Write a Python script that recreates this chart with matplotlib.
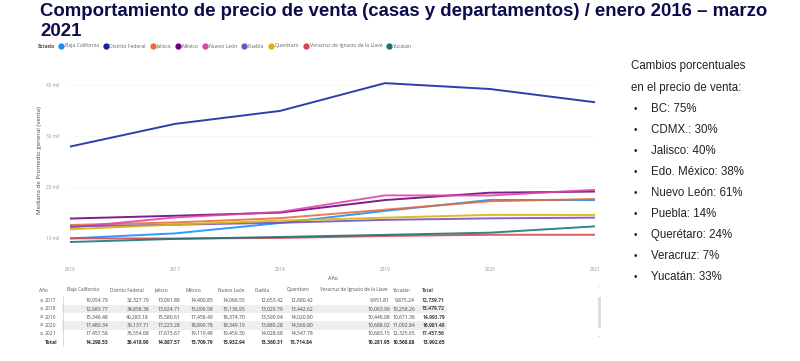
import matplotlib
matplotlib.use("Agg")
import matplotlib.pyplot as plt
from matplotlib.patches import Rectangle
from matplotlib.lines import Line2D

# ---------------- data ----------------
years = [2016, 2017, 2018, 2019, 2020, 2021]
states = ["Baja California", "Distrito Federal", "Jalisco", "México", "Nuevo León",
          "Puebla", "Querétaro", "Veracruz de Ignacio de la Llave", "Yucatán"]

baja_california = [9975, 10954.79, 12983.77, 15346.48, 17480.34, 17457.58]
distrito_federal = [27900, 32327.79, 34858.38, 40283.18, 39137.71, 36554.68]
jalisco = [12600, 13091.88, 13924.71, 15580.61, 17223.28, 17673.67]
mexico = [13850, 14400.85, 15009.58, 17458.49, 18899.78, 19119.48]
nuevo_leon = [12100, 14066.55, 15136.95, 18374.70, 18349.19, 19459.30]
puebla = [12300, 12653.42, 13029.79, 13590.94, 13889.28, 14028.68]
queretaro = [11750, 12680.42, 13442.62, 14020.80, 14569.80, 14547.78]
veracruz = [9985, 9951.81, 10063.99, 10446.08, 10688.02, 10683.15]
yucatan = [9270, 9875.24, 10258.26, 10671.36, 11092.84, 12325.65]
series = [baja_california, distrito_federal, jalisco, mexico, nuevo_leon,
          puebla, queretaro, veracruz, yucatan]

total_by_year = [12739.71, 13479.72, 14993.79, 16981.40, 17457.56]      # 2017..2021
total_by_state = [14298.53, 36418.90, 14887.57, 15709.79, 15932.94,
                  13360.31, 13714.84, 10281.95, 10568.88]
grand_total = 13992.65

yticks = [10000, 20000, 30000, 40000]
ytick_labels = ["10 mil", "20 mil", "30 mil", "40 mil"]

changes_title = ["Cambios porcentuales", "en el precio de venta:"]
changes = ["BC: 75%", "CDMX.: 30%", "Jalisco: 40%", "Edo. México: 38%",
           "Nuevo León: 61%", "Puebla: 14%", "Querétaro: 24%", "Veracruz: 7%",
           "Yucatán: 33%"]

colors = ["#118DFF", "#12239E", "#E66C37", "#6B007B", "#E044A7",
          "#744EC2", "#D9B300", "#D64550", "#197278"]

# ---------------- figure ----------------
W, H = 800, 361
fig = plt.figure(figsize=(W / 100, H / 100), dpi=100)
fig.patch.set_facecolor("white")


def P(x, y):
    return (x / W, 1 - y / H)


UI = ["Open Sans", "DejaVu Sans"]
ARIAL = ["Liberation Sans", "DejaVu Sans"]

# title
fig.text(*P(40, 12), "Comportamiento de precio de venta (casas y departamentos) / enero 2016 – marzo",
         fontsize=13.4, fontweight="bold", color="#0c0c4a", family=ARIAL, va="center", ha="left")
fig.text(*P(40, 32), "2021", fontsize=13.4, fontweight="bold", color="#0c0c4a",
         family=ARIAL, va="center", ha="left")

# legend row
renderer = fig.canvas.get_renderer()
lx = 37
ly = 46
t = fig.text(*P(lx, ly), "Estado", fontsize=3.7, fontweight="bold", color="#555555",
             family=UI, va="center", ha="left")
bb = t.get_window_extent(renderer)
lx = bb.x1 + 5
for name, c in zip(states, colors):
    fig.add_artist(Line2D([(lx + 2) / W], [1 - ly / H], marker="o", markersize=3.5,
                          color=c, linestyle="none", transform=fig.transFigure))
    t = fig.text((lx + 5.5) / W, 1 - ly / H, name, fontsize=3.7, color="#666666",
                 family=UI, va="center", ha="left")
    bb = t.get_window_extent(renderer)
    lx = bb.x1 + 5

# ---------------- line chart ----------------
y_top, y_bot = 60, 260
ax = fig.add_axes([70 / W, 1 - y_bot / H, 525 / W, (y_bot - y_top) / H])
for s, c in zip(series, colors):
    ax.plot(years, s, color=c, lw=1.4, solid_capstyle="butt", clip_on=False, alpha=0.88)
ax.set_xlim(2016, 2021)
ax.set_ylim(5760, 44800)
ax.set_yticks(yticks)
ax.set_yticklabels(ytick_labels)
ax.set_xticks(years)
ax.set_xticklabels([str(y) for y in years])
for sp in ax.spines.values():
    sp.set_visible(False)
ax.tick_params(length=0, labelsize=3.4, colors="#999999", pad=8)
for lab in ax.get_xticklabels() + ax.get_yticklabels():
    lab.set_family(UI)
ax.tick_params(axis="x", pad=5)
ax.grid(axis="y", color="#e6e6e6", lw=0.6, linestyle=(0, (1, 2)))
ax.set_axisbelow(True)
ax.set_xlabel("Año", fontsize=3.8, color="#444444", family=UI, labelpad=3)
fig.text(*P(40, 160), "Mediana de Promedio general (venta)", rotation=90, fontsize=4.4,
         color="#444444", family=UI, va="center", ha="center")

# ---------------- table ----------------
header_x = [67, 110, 154, 185, 218, 255, 287, 320, 392, 422]
value_right = [108, 149, 180, 213, 245, 283, 313, 390, 415, 445]
row_y0 = 300.5
row_h = 8.3
fs_t = 3.6
fs_h = 3.4

# shading for alternate rows
for i in (1, 3):
    yy = row_y0 + i * row_h
    fig.add_artist(Rectangle(P(62, yy + row_h / 2), 385 / W, row_h / H,
                             transform=fig.transFigure, facecolor="#eeeeee",
                             edgecolor="none", zorder=0))

fig.text(*P(39, 290), "Año", fontsize=fs_h, color="#555555", family=UI, va="center")
headers = states + ["Total"]
for hx, h in zip(header_x, headers):
    fig.text(*P(hx, 290), h, fontsize=fs_h, color="#555555", family=UI, va="center",
             fontweight="bold" if h == "Total" else "normal")

vals_by_year = list(zip(*[s[1:] for s in series]))
for i, yr in enumerate(years[1:]):
    yy = row_y0 + i * row_h
    fig.text(*P(40, yy), "⊞", fontsize=3.0, color="#888888", family=["DejaVu Sans"], va="center")
    fig.text(*P(45, yy), str(yr), fontsize=fs_t, color="#555555", family=UI, va="center")
    row = list(vals_by_year[i]) + [total_by_year[i]]
    for j, (vr, v) in enumerate(zip(value_right, row)):
        fig.text(*P(vr, yy), f"{v:,.2f}", fontsize=fs_t, color="#444444", family=UI,
                 va="center", ha="right", fontweight="bold" if j == len(row) - 1 else "normal")

# cover lower part of the 2021 row (scrolled)
fig.add_artist(Rectangle(P(35, 348), 420 / W, 13.5 / H, transform=fig.transFigure,
                         facecolor="white", edgecolor="none", zorder=5))
ty = 342
fig.text(*P(45, ty), "Total", fontsize=fs_t, color="#333333", family=UI, va="center",
         fontweight="bold", zorder=6)
for vr, v in zip(value_right, total_by_state + [grand_total]):
    fig.text(*P(vr, ty), f"{v:,.2f}", fontsize=fs_t, color="#333333", family=UI,
             va="center", ha="right", fontweight="bold", zorder=6)

fig.add_artist(Line2D([63 / W, 63 / W], [1 - 296 / H, 1 - 346 / H], color="#cccccc", lw=0.5,
                      transform=fig.transFigure, zorder=7))

# scrollbar
fig.add_artist(Rectangle(P(597.5, 328), 3 / W, 31 / H, transform=fig.transFigure,
                         facecolor="#dddddd", edgecolor="none"))
fig.text(*P(599, 288), "˄", fontsize=3, color="#999999", ha="center", va="center")
fig.text(*P(599, 338), "˅", fontsize=3, color="#999999", ha="center", va="center")

# ---------------- right text panel ----------------
fig.text(*P(631, 66.5), changes_title[0], fontsize=8.3, color="#222222", family=ARIAL, va="center")
fig.text(*P(631, 87.5), changes_title[1], fontsize=8.3, color="#222222", family=ARIAL, va="center")
for i, c in enumerate(changes):
    yy = 109.3 + i * 20.9
    fig.text(*P(635, yy), "•", fontsize=7, color="#222222", family=ARIAL, va="center", ha="center")
    fig.text(*P(651, yy), c, fontsize=8.3, color="#222222", family=ARIAL, va="center")

fig.savefig("out.png", dpi=100, facecolor="white")
